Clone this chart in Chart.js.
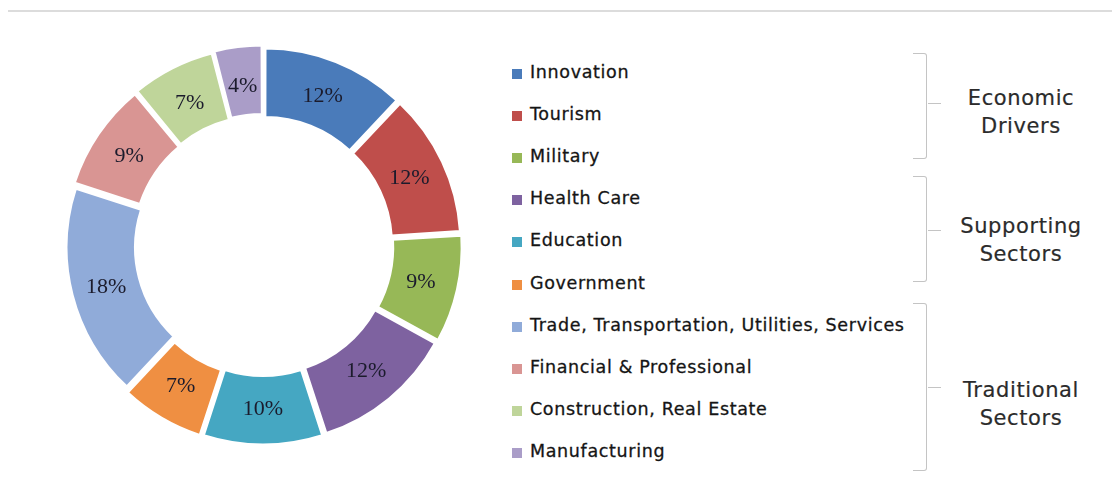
<!DOCTYPE html>
<html>
<head>
<meta charset="utf-8">
<script src="https://cdn.jsdelivr.net/npm/chart.js@4.4.0/dist/chart.umd.min.js"></script>
<style>
    html, body {
        margin: 0;
        padding: 0;
        background: #fff;
    }
    #lienzo {
        position: relative;
        width: 1112px;
        height: 487px;
        overflow: hidden;
        font-family: "DejaVu Sans", Verdana, sans-serif;
    }
    #linea-superior {
        position: absolute;
        left: 8px;
        right: 0;
        top: 10px;
        height: 2px;
        background: #dcdcdc;
    }
    #caja-dona {
        position: absolute;
        left: 60px;
        top: 43px;
        width: 406px;
        height: 406px;
    }
    .leyenda-item {
        position: absolute;
        left: 512px;
        height: 20px;
        line-height: 20px;
        font-size: 17.5px;
        letter-spacing: 0.65px;
        color: #151515;
        -webkit-text-stroke: 0.3px #151515;
        white-space: nowrap;
    }
    .leyenda-item .cuadro {
        display: inline-block;
        width: 10px;
        height: 10px;
        margin-right: 8px;
        vertical-align: -1px;
    }
    .llave {
        position: absolute;
        left: 913px;
        width: 13px;
        border: 1.5px solid #c4c4c4;
        border-left: none;
        border-radius: 0 3px 3px 0;
    }
    .llave-punta {
        position: absolute;
        left: 928px;
        width: 13px;
        height: 0;
        border-top: 1.5px solid #c4c4c4;
    }
    .grupo {
        position: absolute;
        left: 951px;
        width: 140px;
        text-align: center;
        font-size: 21px;
        letter-spacing: 0.6px;
        line-height: 28px;
        color: #2b2b2b;
        -webkit-text-stroke: 0.2px #2b2b2b;
    }
</style>
</head>
<body>
<div id="lienzo">
    <div id="linea-superior"></div>
    <div id="caja-dona"><canvas id="grafica-sectores" width="406" height="406"></canvas></div>
</div>

<script>
// Datos de la gráfica
const categorias = [
    'Innovation', 'Tourism', 'Military', 'Health Care', 'Education', 'Government',
    'Trade, Transportation, Utilities, Services', 'Financial & Professional',
    'Construction, Real Estate', 'Manufacturing'
];
const porcentajes = [12, 12, 9, 12, 10, 7, 18, 9, 7, 4];
const colores = [
    '#4a7bba', '#bf4e4b', '#97b857', '#7e62a0', '#45a7c2', '#ef8f42',
    '#90abd9', '#d99593', '#bfd59a', '#aa9dc8'
];

// Grupos de la leyenda (índice de la primera y última categoría)
const grupoNombres = [['Economic', 'Drivers'], ['Supporting', 'Sectors'], ['Traditional', 'Sectors']];
const grupoInicio = [0, 3, 6];
const grupoFin = [2, 5, 9];

// Separación de los arcos (Chart.js desplaza offset / 4 al dibujar)
const separacion = 24;

// Etiquetas de porcentaje en el centro de cada arco
const etiquetasPlugin = {
    id: 'etiquetasPorcentaje',
    afterDatasetsDraw(chart) {
        const ctx = chart.ctx;
        const meta = chart.getDatasetMeta(0);
        ctx.save();
        ctx.font = '22px "Liberation Serif", "Times New Roman", serif';
        ctx.fillStyle = '#1b1b2c';
        ctx.textAlign = 'center';
        ctx.textBaseline = 'middle';
        meta.data.forEach((arco, i) => {
            const a = arco.getProps(['x', 'y', 'startAngle', 'endAngle', 'innerRadius', 'outerRadius']);
            const medio = (a.startAngle + a.endAngle) / 2;
            const r = (a.innerRadius + a.outerRadius) / 2 + separacion / 4;
            ctx.fillText(porcentajes[i] + '%', a.x + Math.cos(medio) * r, a.y + Math.sin(medio) * r + 1);
        });
        ctx.restore();
    }
};

const ctx = document.getElementById('grafica-sectores').getContext('2d');
const graficaSectores = new Chart(ctx, {
    type: 'doughnut',
    data: {
        labels: categorias,
        datasets: [{
            data: porcentajes,
            backgroundColor: colores,
            borderColor: '#ffffff',
            borderWidth: 2,
            offset: separacion,
            hoverOffset: separacion
        }]
    },
    options: {
        responsive: false,
        animation: false,
        cutout: '64%',
        layout: { padding: 0 },
        plugins: {
            legend: { display: false },
            tooltip: { enabled: false }
        }
    },
    plugins: [etiquetasPlugin]
});

// Leyenda a la derecha
const lienzo = document.getElementById('lienzo');
const filaY = i => 72 + i * 42.1;

categorias.forEach((nombre, i) => {
    const item = document.createElement('div');
    item.className = 'leyenda-item';
    item.style.top = (filaY(i) - 10) + 'px';
    const cuadro = document.createElement('span');
    cuadro.className = 'cuadro';
    cuadro.style.background = colores[i];
    item.appendChild(cuadro);
    item.appendChild(document.createTextNode(nombre));
    lienzo.appendChild(item);
});

// Llaves que agrupan las categorías
const llaves = [
    { arriba: 53, abajo: 157, punta: 103, texto: 98 },
    { arriba: 176, abajo: 280, punta: 230, texto: 226 },
    { arriba: 303, abajo: 469, punta: 387, texto: 390 }
];

grupoNombres.forEach((lineas, g) => {
    const l = llaves[g];
    const llave = document.createElement('div');
    llave.className = 'llave';
    llave.style.top = l.arriba + 'px';
    llave.style.height = (l.abajo - l.arriba) + 'px';
    llave.title = categorias.slice(grupoInicio[g], grupoFin[g] + 1).join(', ');
    lienzo.appendChild(llave);

    const punta = document.createElement('div');
    punta.className = 'llave-punta';
    punta.style.top = l.punta + 'px';
    lienzo.appendChild(punta);

    const texto = document.createElement('div');
    texto.className = 'grupo';
    texto.style.top = (l.texto - 14) + 'px';
    texto.innerHTML = lineas.join('<br>');
    lienzo.appendChild(texto);
});
</script>
</body>
</html>
